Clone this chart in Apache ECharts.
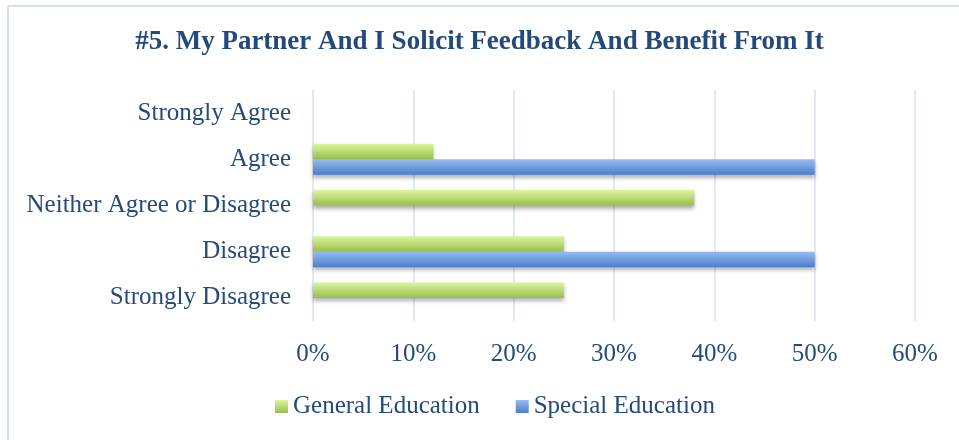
<!DOCTYPE html>
<html><head><meta charset="utf-8">
<script src="https://cdn.jsdelivr.net/npm/echarts@6/dist/echarts.min.js"></script>
<style>html,body{margin:0;padding:0;background:#fff}#c{width:959px;height:440px}</style>
</head><body><div id="c"></div>
<script>
const categories = ['Strongly Disagree', 'Disagree', 'Neither Agree or Disagree', 'Agree', 'Strongly Agree'];
const generalEducation = [25, 25, 38, 12, 0];
const specialEducation = [0, 50, 0, 50, 0];
const seriesNames = ['General Education', 'Special Education'];
const titleText = '#5. My Partner And I Solicit Feedback And Benefit From It';

const txt = '#244a7c';
const font = '"Liberation Serif", "DejaVu Serif", serif';
const chart = echarts.init(document.getElementById('c'));
function grad(light, dark) {
  return new echarts.graphic.LinearGradient(0, 0, 0, 1, [
    {offset: 0, color: light}, {offset: 1, color: dark}
  ]);
}
chart.setOption({
  animation: false,
  title: {text: titleText, left: 'center', top: 24,
    textStyle: {fontFamily: font, fontWeight: 'bold', fontSize: 27, color: txt}},
  legend: {data: seriesNames, bottom: 16, left: 270, itemWidth: 13, itemHeight: 13, itemGap: 36,
    icon: 'rect', textStyle: {fontFamily: font, fontSize: 25, color: txt}},
  grid: {left: 313, right: 44, top: 90, bottom: 119, containLabel: false},
  xAxis: {type: 'value', min: 0, max: 60, interval: 10,
    axisLabel: {formatter: '{value}%', fontFamily: font, fontSize: 25, color: txt, margin: 21},
    splitLine: {lineStyle: {color: '#d5e0ef', width: 1.5}},
    axisLine: {show: false}, axisTick: {show: false}},
  yAxis: {type: 'category', data: categories,
    axisLabel: {fontFamily: font, fontSize: 25, color: txt, margin: 22},
    axisLine: {show: false}, axisTick: {show: false}},
  graphic: [
    {type: 'line', shape: {x1: 8, y1: 6, x2: 8, y2: 440}, style: {stroke: '#d5e0ef', lineWidth: 2}},
    {type: 'line', shape: {x1: 8, y1: 6, x2: 959, y2: 6}, style: {stroke: '#d5e0ef', lineWidth: 2}}
  ],
  series: [
    {name: seriesNames[0], type: 'bar', data: generalEducation, barGap: '0%', barCategoryGap: '33%',
      itemStyle: {color: grad('#dbf5a0', '#98bf4a'), shadowBlur: 4, shadowOffsetY: 3, shadowColor: 'rgba(0,0,0,0.3)'}},
    {name: seriesNames[1], type: 'bar', data: specialEducation, barGap: '0%', barCategoryGap: '33%',
      itemStyle: {color: grad('#96bbf0', '#4a7fcb'), shadowBlur: 4, shadowOffsetY: 3, shadowColor: 'rgba(0,0,0,0.3)'}}
  ]
});
</script></body></html>
